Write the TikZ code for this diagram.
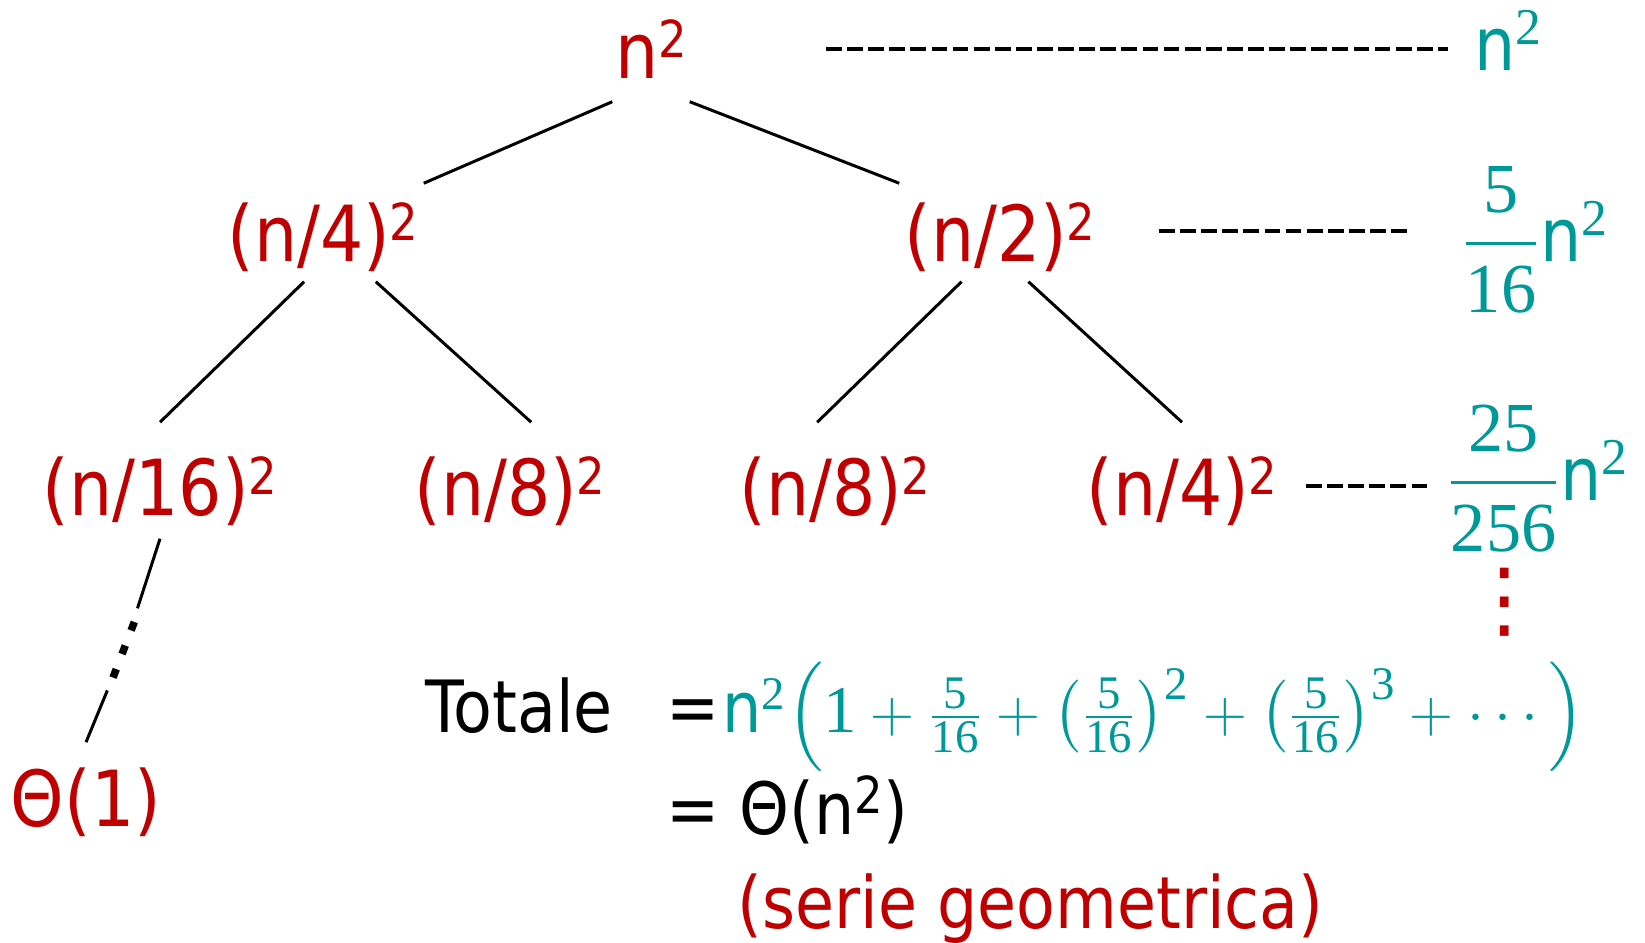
\documentclass[tikz,border=0pt]{standalone}
\usepackage{amsmath}
\usepackage{fontspec}
\setmainfont{Liberation Serif}
\setsansfont[FakeStretch=0.88]{DejaVu Sans}
\newfontfamily\dotsfont{DejaVu Sans}
\definecolor{tred}{RGB}{192,0,0}
\definecolor{tteal}{RGB}{0,153,153}
\usetikzlibrary{calc}
\newcommand\sq{\raisebox{0.28em}{\fontsize{14.5}{14}\selectfont 2}}
\newcommand\ffrac{\frac{\textrm{5}}{\textrm{16}}}

\begin{document}
\begin{tikzpicture}[x=0.01cm,y=-0.01cm,
  term/.style={font=\sffamily\fontsize{22}{26}\selectfont,text=tred,anchor=base,inner sep=0pt},
  sumcol/.style={text=tteal,anchor=base west,inner ysep=0pt},
  line/.style={anchor=base west,inner sep=0pt,font=\sffamily\fontsize{20.5}{24}\selectfont},
  edge/.style={line width=0.85pt},
  dashline/.style={line width=1.15pt,dash pattern=on 4.5pt off 1.5pt}
]
  \useasboundingbox (0,0) rectangle (1645,943);
  % recursion tree
  \node[term,minimum width=0.76cm,text height=0.6cm,text depth=0.22cm] (root) at (651,79) {n\sq};
  \node[term,minimum width=2cm,text height=0.78cm,text depth=0.19cm] (a) at (323,262) {(n/4)\sq};
  \node[term,minimum width=2cm,text height=0.78cm,text depth=0.19cm] (b) at (1000,262) {(n/2)\sq};
  \node[term,text height=0.93cm,text depth=0.22cm] (aa) at (160,516) {(n/16)\sq};
  \node[term,text height=0.93cm,text depth=0.22cm] (ab) at (510,516) {(n/8)\sq};
  \node[term,text height=0.93cm,text depth=0.22cm] (ba) at (835,516) {(n/8)\sq};
  \node[term,text height=0.93cm,text depth=0.22cm] (bb) at (1182,516) {(n/4)\sq};
  \node[term,text height=0.83cm,text depth=0.2cm] (th1) at (86,826) {Θ(1)};
  \node[rotate=-21,inner sep=0pt,minimum height=0.86cm,font=\dotsfont\fontsize{21}{21}\selectfont] (vd) at (124,650) {⋮};
  \draw[edge] (root.south west) -- (a.north east);
  \draw[edge] (root.south east) -- (b.north west);
  \draw[edge] (a.-111) -- (aa.north);
  \draw[edge] (a.-43) -- (ab.70);
  \draw[edge] (b.-128) -- (ba.107);
  \draw[edge] (b.-60) -- (bb.north);
  \draw[edge] (aa.south) -- (vd);
  \draw[edge] (vd) -- (th1.north);

  % cost per level
  \node[sumcol,inner xsep=0.26cm] (s0) at (1448,71) {\sffamily\fontsize{21}{24}\selectfont n$^{\textrm{2}}$};
  \node[sumcol,inner xsep=0.5cm] (s1) at (1411,262) {\fontsize{20}{24}\selectfont$\dfrac{\textrm{5}}{\textrm{16}}$\sffamily\fontsize{21}{24}\selectfont n$^{\textrm{2}}$};
  \node[sumcol,inner xsep=0.14cm] (s2) at (1432,501) {\fontsize{20}{24}\selectfont$\dfrac{\textrm{25}}{\textrm{256}}$\sffamily\fontsize{21}{24}\selectfont n$^{\textrm{2}}$};
  \node[text=tred,font=\dotsfont\fontsize{24}{24}\selectfont] (vr) at (1505,602) {⋮};
  \coordinate (d0) at (826,49);
  \coordinate (d1) at (1159,231);
  \coordinate (d2) at (1306,486);
  \draw[dashline] (d0) -- (d0 -| s0.west);
  \draw[dashline] (d1) -- (d1 -| s1.west);
  \draw[dashline] (d2) -- (d2 -| s2.west);

  % total
  \node[line] (tot) at (425,732) {Totale};
  \node[line] (eq1) at (666,732) {=};
  \node[line,text=tteal,font=\fontsize{19}{24}\selectfont] (sum) at (722,732)
    {{\sffamily\fontsize{20}{24}\selectfont n}$^{\textrm{2}}\Big(\textrm{1}+\ffrac+\big(\ffrac\big)^{\textrm{2}}+\big(\ffrac\big)^{\textrm{3}}+\cdots\Big)$};
  \node[line] (eq2) at (666,834) {= Θ(n\sq)};
  \node[line,text=tred] (serie) at (737,928) {(serie geometrica)};
\end{tikzpicture}
\end{document}
